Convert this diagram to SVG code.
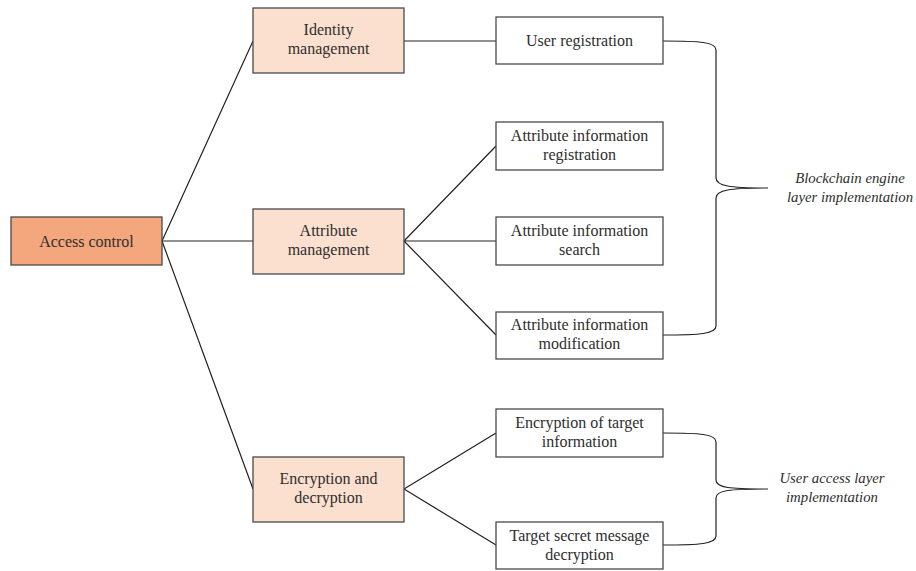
<svg xmlns="http://www.w3.org/2000/svg" width="916" height="571" viewBox="0 0 916 571">
<style>
.box{stroke:#4a4a4a;stroke-width:1.3}
.main{fill:#F4A67D}
.mid{fill:#FCE0CF}
.leaf{fill:#ffffff}
text{font-family:"Liberation Serif","Times New Roman",serif;font-size:16px;fill:#2e2e2e;text-anchor:middle}
.it{font-style:italic;font-size:14.8px}
.conn{fill:none;stroke:#222;stroke-width:1.2}
</style>
<rect width="916" height="571" fill="#fff"/>
<g id="connectors">
<path class="conn" d="M162,241 L253,41 M162,241 L253,241 M162,241 L253,489"/>
<path class="conn" d="M404,41 L496,41"/>
<path class="conn" d="M404,241 L496,146 M404,241 L496,241 M404,241 L496,335"/>
<path class="conn" d="M404,489 L496,433 M404,489 L496,545"/>
<path class="conn" d="M663,41 C700,41 716,42 716,50 L716,178 C716,186 730,188 768,188 C730,188 716,190 716,198 L716,326 C716,334 700,335 663,335"/>
<path class="conn" d="M663,433 C700,433 716,434 716,442 L716,480 C716,488 730,489 768,489 C730,489 716,490 716,498 L716,536 C716,544 700,545 663,545"/>
</g>
<g id="access-control">
<rect class="box main" x="11" y="217" width="151" height="48"/>
<text x="86.5" y="246.5">Access control</text>
</g>
<g id="identity-management">
<rect class="box mid" x="253" y="8" width="151" height="65"/>
<text x="328.5" y="35">Identity</text>
<text x="328.5" y="54">management</text>
</g>
<g id="attribute-management">
<rect class="box mid" x="253" y="209" width="151" height="65"/>
<text x="328.5" y="236">Attribute</text>
<text x="328.5" y="255">management</text>
</g>
<g id="encryption-decryption">
<rect class="box mid" x="253" y="457" width="151" height="65"/>
<text x="328.5" y="484">Encryption and</text>
<text x="328.5" y="503">decryption</text>
</g>
<g id="user-registration">
<rect class="box leaf" x="496" y="17" width="167" height="47"/>
<text x="579.5" y="46">User registration</text>
</g>
<g id="attr-info-registration">
<rect class="box leaf" x="496" y="122" width="167" height="48"/>
<text x="579.5" y="141">Attribute information</text>
<text x="579.5" y="160">registration</text>
</g>
<g id="attr-info-search">
<rect class="box leaf" x="496" y="217" width="167" height="48"/>
<text x="579.5" y="236">Attribute information</text>
<text x="579.5" y="255">search</text>
</g>
<g id="attr-info-modification">
<rect class="box leaf" x="496" y="312" width="167" height="47"/>
<text x="579.5" y="330">Attribute information</text>
<text x="579.5" y="349">modification</text>
</g>
<g id="encryption-target">
<rect class="box leaf" x="496" y="409" width="167" height="48"/>
<text x="579.5" y="428">Encryption of target</text>
<text x="579.5" y="447">information</text>
</g>
<g id="target-decryption">
<rect class="box leaf" x="496" y="522" width="167" height="47"/>
<text x="579.5" y="541">Target secret message</text>
<text x="579.5" y="560">decryption</text>
</g>
<g id="label-blockchain">
<text class="it" x="850" y="183">Blockchain engine</text>
<text class="it" x="850" y="202">layer implementation</text>
</g>
<g id="label-user-access">
<text class="it" x="832" y="483">User access layer</text>
<text class="it" x="832" y="502">implementation</text>
</g>
</svg>
